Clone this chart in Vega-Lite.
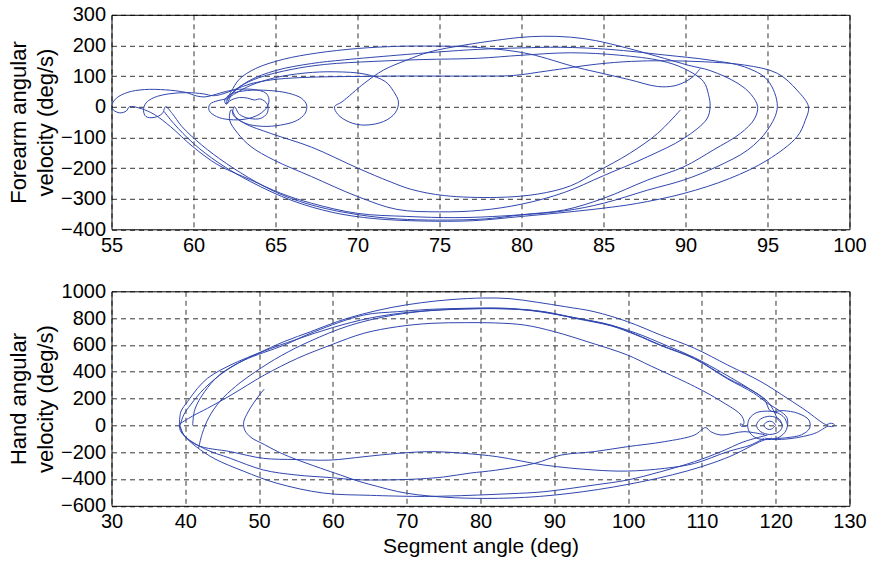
{
  "$schema": "https://vega.github.io/schema/vega-lite/v6.json",
  "padding": {"left": 6.5, "top": 3.8, "right": 10, "bottom": 2},
  "spacing": 24.5,
  "config": {
    "font": "Liberation Sans",
    "view": {"stroke": "#000", "strokeWidth": 1},
    "axis": {
      "labelFont": "Liberation Sans", "labelFontSize": 20, "labelColor": "#000",
      "titleFont": "Liberation Sans", "titleFontSize": 22, "titleFontWeight": "normal", "titleColor": "#000", "titleLineHeight": 27,
      "domain": false, "ticks": false, "grid": true, "gridColor": "#000", "gridDash": [5, 4], "gridWidth": 0.8, "gridOpacity": 1,
      "labelFlush": false, "labelOverlap": false, "labelPadding": 6
    }
  },
  "datasets": {
    "fore": [
      {"s":"f1","x":89.7,"y":-10},{"s":"f1","x":88.3,"y":-87},{"s":"f1","x":86.6,"y":-152},{"s":"f1","x":84.6,"y":-212},{"s":"f1","x":83,"y":-258},{"s":"f1","x":81,"y":-285},{"s":"f1","x":78.5,"y":-296},{"s":"f1","x":75.3,"y":-290},{"s":"f1","x":73.3,"y":-270},{"s":"f1","x":72,"y":-245},{"s":"f1","x":70,"y":-200},{"s":"f1","x":67.2,"y":-132},{"s":"f1","x":64.7,"y":-87},{"s":"f1","x":63.1,"y":-54},{"s":"f1","x":62.4,"y":-25},{"s":"f1","x":62.5,"y":0},
      {"s":"f1","x":62.8,"y":-25},{"s":"f1","x":63.4,"y":-38},{"s":"f1","x":64.1,"y":-38},{"s":"f1","x":64.5,"y":-20},{"s":"f1","x":64.5,"y":8},{"s":"f1","x":64.1,"y":25},{"s":"f1","x":63.7,"y":22},{"s":"f1","x":63.3,"y":28},{"s":"f1","x":62.8,"y":30},{"s":"f1","x":62.3,"y":22},{"s":"f1","x":62,"y":10},
      {"s":"f1","x":62.2,"y":35},{"s":"f1","x":62.8,"y":65},{"s":"f1","x":64,"y":95},{"s":"f1","x":66,"y":122},{"s":"f1","x":68,"y":138},{"s":"f1","x":71,"y":148},{"s":"f1","x":74,"y":154},{"s":"f1","x":77.3,"y":158},{"s":"f1","x":80,"y":168},{"s":"f1","x":83,"y":176},{"s":"f1","x":86,"y":168},{"s":"f1","x":88.5,"y":150},{"s":"f1","x":89.9,"y":125},{"s":"f1","x":91.1,"y":82},{"s":"f1","x":91.4,"y":40},{"s":"f1","x":91.5,"y":0},{"s":"f1","x":91.3,"y":-40},{"s":"f1","x":89.9,"y":-103},{"s":"f1","x":87.7,"y":-163},{"s":"f1","x":85,"y":-225},{"s":"f1","x":82.6,"y":-280},{"s":"f1","x":80,"y":-318},{"s":"f1","x":77.5,"y":-338},{"s":"f1","x":75,"y":-343},{"s":"f1","x":72.4,"y":-335},{"s":"f1","x":70,"y":-293},{"s":"f1","x":67.2,"y":-228},{"s":"f1","x":64.9,"y":-174},{"s":"f1","x":63.5,"y":-130},{"s":"f1","x":62.7,"y":-87},{"s":"f1","x":62.2,"y":-43},{"s":"f1","x":62.3,"y":-10},
      {"s":"f1","x":62.6,"y":-35},{"s":"f1","x":63.2,"y":-55},{"s":"f1","x":64.2,"y":-64},{"s":"f1","x":65.3,"y":-60},{"s":"f1","x":66.3,"y":-45},{"s":"f1","x":66.8,"y":-22},{"s":"f1","x":66.9,"y":5},{"s":"f1","x":66.6,"y":27},{"s":"f1","x":65.8,"y":44},{"s":"f1","x":64.6,"y":53},{"s":"f1","x":63.3,"y":53},{"s":"f1","x":62.3,"y":42},{"s":"f1","x":61.9,"y":22},{"s":"f1","x":62,"y":8},
      {"s":"f1","x":62.4,"y":45},{"s":"f1","x":63.4,"y":85},{"s":"f1","x":65,"y":118},{"s":"f1","x":67.2,"y":141},{"s":"f1","x":69.2,"y":153},{"s":"f1","x":72.4,"y":168},{"s":"f1","x":75,"y":179},{"s":"f1","x":77.3,"y":187},{"s":"f1","x":80,"y":192},{"s":"f1","x":82.4,"y":194},{"s":"f1","x":85.4,"y":187},{"s":"f1","x":88.7,"y":169},{"s":"f1","x":91.5,"y":152},{"s":"f1","x":93.6,"y":130},{"s":"f1","x":95,"y":87},{"s":"f1","x":95.6,"y":0},{"s":"f1","x":95,"y":-76},{"s":"f1","x":93.8,"y":-141},{"s":"f1","x":91.9,"y":-196},{"s":"f1","x":89.9,"y":-239},{"s":"f1","x":87.7,"y":-272},{"s":"f1","x":85,"y":-315},{"s":"f1","x":82.6,"y":-340},{"s":"f1","x":79,"y":-356},{"s":"f1","x":76,"y":-362},{"s":"f1","x":73,"y":-358},{"s":"f1","x":70,"y":-348},{"s":"f1","x":67.2,"y":-315},{"s":"f1","x":65.3,"y":-282},{"s":"f1","x":63.5,"y":-239},{"s":"f1","x":61.5,"y":-190},{"s":"f1","x":59.95,"y":-130},{"s":"f1","x":58.6,"y":-65},{"s":"f1","x":57.6,"y":-25},{"s":"f1","x":56.8,"y":-6},{"s":"f1","x":56.1,"y":0},
      {"s":"f1","x":55.9,"y":-14},{"s":"f1","x":55.5,"y":-20},{"s":"f1","x":55.1,"y":-10},{"s":"f1","x":55,"y":3},{"s":"f1","x":55.3,"y":28},{"s":"f1","x":56,"y":47},{"s":"f1","x":57,"y":56},{"s":"f1","x":58.3,"y":55},{"s":"f1","x":59.5,"y":47},{"s":"f1","x":60.2,"y":35},{"s":"f1","x":60.7,"y":32},{"s":"f1","x":61.2,"y":38},{"s":"f1","x":62,"y":50},{"s":"f1","x":62.8,"y":57},{"s":"f1","x":63.7,"y":56},{"s":"f1","x":64.4,"y":45},{"s":"f1","x":64.6,"y":25},{"s":"f1","x":64.5,"y":0},{"s":"f1","x":64,"y":-25},{"s":"f1","x":63.2,"y":-40},{"s":"f1","x":62.2,"y":-42},{"s":"f1","x":61.4,"y":-32},{"s":"f1","x":60.95,"y":-12},{"s":"f1","x":61,"y":8},{"s":"f1","x":61.5,"y":20},{"s":"f1","x":62,"y":26},
      {"s":"f1","x":62.6,"y":45},{"s":"f1","x":63.5,"y":70},{"s":"f1","x":65,"y":95},{"s":"f1","x":66.8,"y":110},{"s":"f1","x":68.6,"y":114},{"s":"f1","x":70.5,"y":106},{"s":"f1","x":71.7,"y":82},{"s":"f1","x":72.2,"y":50},{"s":"f1","x":72.5,"y":15},{"s":"f1","x":72.3,"y":-20},{"s":"f1","x":71.6,"y":-48},{"s":"f1","x":70.4,"y":-60},{"s":"f1","x":69.5,"y":-50},{"s":"f1","x":68.8,"y":-25},{"s":"f1","x":68.6,"y":0},{"s":"f1","x":69.06,"y":16},
      {"s":"f1","x":70.4,"y":76},{"s":"f1","x":71.6,"y":120},{"s":"f1","x":73,"y":152},{"s":"f1","x":74.4,"y":179},{"s":"f1","x":76.5,"y":201},{"s":"f1","x":78.5,"y":217},{"s":"f1","x":79.9,"y":226},{"s":"f1","x":81.3,"y":230},{"s":"f1","x":83,"y":227},{"s":"f1","x":84.5,"y":216},{"s":"f1","x":86.4,"y":192},{"s":"f1","x":88.7,"y":158},{"s":"f1","x":90.2,"y":135},{"s":"f1","x":91.5,"y":118},{"s":"f1","x":93.2,"y":76},{"s":"f1","x":94,"y":40},{"s":"f1","x":94.4,"y":0},{"s":"f1","x":94.2,"y":-40},{"s":"f1","x":93.35,"y":-87},{"s":"f1","x":91.7,"y":-141},{"s":"f1","x":89.9,"y":-196},{"s":"f1","x":87.7,"y":-239},{"s":"f1","x":85,"y":-299},{"s":"f1","x":82.6,"y":-337},{"s":"f1","x":80.1,"y":-352},{"s":"f1","x":77.8,"y":-366},{"s":"f1","x":75,"y":-370},{"s":"f1","x":72.4,"y":-366},{"s":"f1","x":70,"y":-352},{"s":"f1","x":67.5,"y":-325},{"s":"f1","x":65.5,"y":-290},{"s":"f1","x":63.8,"y":-245},{"s":"f1","x":62,"y":-185},{"s":"f1","x":60.5,"y":-125},{"s":"f1","x":59.3,"y":-65},{"s":"f1","x":58.7,"y":-22},{"s":"f1","x":58.3,"y":0},
      {"s":"f1","x":58.1,"y":-22},{"s":"f1","x":57.6,"y":-35},{"s":"f1","x":57.1,"y":-32},{"s":"f1","x":56.95,"y":-12},{"s":"f1","x":57.1,"y":12},{"s":"f1","x":57.6,"y":30},{"s":"f1","x":58.5,"y":42},{"s":"f1","x":59.6,"y":46},{"s":"f1","x":60.6,"y":42},{"s":"f1","x":61.2,"y":36},
      {"s":"f1","x":61.8,"y":42},{"s":"f1","x":62.5,"y":56},{"s":"f1","x":63.5,"y":75},{"s":"f1","x":64.8,"y":88},{"s":"f1","x":66.5,"y":95},{"s":"f1","x":68.5,"y":98},{"s":"f1","x":70.5,"y":99},{"s":"f1","x":72.2,"y":100},{"s":"f1","x":75,"y":100},{"s":"f1","x":77.5,"y":100},{"s":"f1","x":79.5,"y":102},{"s":"f1","x":81.6,"y":117},{"s":"f1","x":84.6,"y":139},{"s":"f1","x":86.7,"y":148},{"s":"f1","x":88.7,"y":150},{"s":"f1","x":91,"y":147},{"s":"f1","x":93.6,"y":136},{"s":"f1","x":95.6,"y":109},{"s":"f1","x":96.8,"y":54},{"s":"f1","x":97.5,"y":0},{"s":"f1","x":97.3,"y":-45},{"s":"f1","x":96.8,"y":-98},{"s":"f1","x":95,"y":-174},{"s":"f1","x":92.7,"y":-234},{"s":"f1","x":89.9,"y":-283},{"s":"f1","x":87,"y":-316},{"s":"f1","x":85,"y":-331},{"s":"f1","x":82.6,"y":-345},{"s":"f1","x":80,"y":-358},{"s":"f1","x":77,"y":-372},{"s":"f1","x":74,"y":-373},{"s":"f1","x":71,"y":-365},{"s":"f1","x":68.5,"y":-345},{"s":"f1","x":66,"y":-306},{"s":"f1","x":63.5,"y":-245},{"s":"f1","x":61.5,"y":-182},{"s":"f1","x":60,"y":-120},{"s":"f1","x":58.8,"y":-55},{"s":"f1","x":58.2,"y":-15},
      {"s":"f2","x":90.9,"y":125},{"s":"f2","x":90.5,"y":100},{"s":"f2","x":90,"y":82},{"s":"f2","x":89.3,"y":68},{"s":"f2","x":88.3,"y":66},{"s":"f2","x":86.6,"y":88},{"s":"f2","x":85,"y":108},{"s":"f2","x":83.4,"y":128},{"s":"f2","x":80.5,"y":172},{"s":"f2","x":78.5,"y":188},{"s":"f2","x":76.5,"y":196},{"s":"f2","x":74,"y":198},{"s":"f2","x":72.4,"y":197},{"s":"f2","x":70,"y":190},{"s":"f2","x":67.5,"y":175},{"s":"f2","x":65.5,"y":155},{"s":"f2","x":63.8,"y":125},{"s":"f2","x":62.8,"y":90},{"s":"f2","x":62.3,"y":50},{"s":"f2","x":62,"y":20}
    ],
    "hand": [
      {"s":"h1","x":39.2,"y":2},{"s":"h1","x":39.4,"y":102},{"s":"h1","x":40.3,"y":177},{"s":"h1","x":41.65,"y":276},{"s":"h1","x":43,"y":351},{"s":"h1","x":44.8,"y":413},{"s":"h1","x":47.1,"y":475},{"s":"h1","x":49.8,"y":537},{"s":"h1","x":53.4,"y":625},{"s":"h1","x":57,"y":699},{"s":"h1","x":60.6,"y":774},{"s":"h1","x":64,"y":830},{"s":"h1","x":68,"y":880},{"s":"h1","x":72,"y":915},{"s":"h1","x":76,"y":938},{"s":"h1","x":80.4,"y":950},{"s":"h1","x":84,"y":945},{"s":"h1","x":87.7,"y":918},{"s":"h1","x":91.5,"y":885},{"s":"h1","x":95.4,"y":848},{"s":"h1","x":99.9,"y":774},{"s":"h1","x":104.4,"y":674},{"s":"h1","x":109,"y":575},{"s":"h1","x":113.5,"y":450},{"s":"h1","x":118,"y":326},{"s":"h1","x":121.6,"y":201},{"s":"h1","x":124.3,"y":102},{"s":"h1","x":126.1,"y":28},{"s":"h1","x":126.9,"y":5},{"s":"h1","x":127.3,"y":15},{"s":"h1","x":127.8,"y":12},{"s":"h1","x":128,"y":0},{"s":"h1","x":127.6,"y":-10},{"s":"h1","x":127.1,"y":-6},{"s":"h1","x":126.6,"y":-20},{"s":"h1","x":125.5,"y":-55},{"s":"h1","x":123.8,"y":-82},{"s":"h1","x":121.8,"y":-100},{"s":"h1","x":119.8,"y":-105},{"s":"h1","x":118.5,"y":-95},
      {"s":"h2","x":39.3,"y":0},{"s":"h2","x":39.8,"y":80},{"s":"h2","x":40.7,"y":152},{"s":"h2","x":42.6,"y":276},{"s":"h2","x":45.3,"y":400},{"s":"h2","x":48,"y":487},{"s":"h2","x":53.4,"y":599},{"s":"h2","x":57.5,"y":699},{"s":"h2","x":64.2,"y":823},{"s":"h2","x":68.75,"y":848},{"s":"h2","x":73,"y":865},{"s":"h2","x":77.8,"y":873},{"s":"h2","x":82,"y":876},{"s":"h2","x":85,"y":868},{"s":"h2","x":88.6,"y":848},{"s":"h2","x":93,"y":800},{"s":"h2","x":97.7,"y":748},{"s":"h2","x":101,"y":680},{"s":"h2","x":104.4,"y":599},{"s":"h2","x":109,"y":500},{"s":"h2","x":113.5,"y":351},{"s":"h2","x":117.1,"y":251},{"s":"h2","x":118.9,"y":177},{"s":"h2","x":119.8,"y":102},{"s":"h2","x":120.2,"y":52},{"s":"h2","x":120.9,"y":0},{"s":"h2","x":120.5,"y":-45},{"s":"h2","x":119.2,"y":-68},{"s":"h2","x":117.9,"y":-45},{"s":"h2","x":117.4,"y":0},{"s":"h2","x":117.9,"y":45},{"s":"h2","x":119.2,"y":68},{"s":"h2","x":120.5,"y":45},{"s":"h2","x":120.9,"y":0},
      {"s":"h3","x":41,"y":0},{"s":"h3","x":41.3,"y":120},{"s":"h3","x":42.6,"y":250},{"s":"h3","x":44.5,"y":370},{"s":"h3","x":47,"y":460},{"s":"h3","x":50.5,"y":550},{"s":"h3","x":55,"y":640},{"s":"h3","x":60,"y":730},{"s":"h3","x":65,"y":800},{"s":"h3","x":70,"y":842},{"s":"h3","x":75,"y":863},{"s":"h3","x":80,"y":871},{"s":"h3","x":85,"y":866},{"s":"h3","x":88.6,"y":846},{"s":"h3","x":93,"y":796},{"s":"h3","x":97.7,"y":742},{"s":"h3","x":101,"y":676},{"s":"h3","x":104.4,"y":596},{"s":"h3","x":109,"y":496},{"s":"h3","x":113.5,"y":346},{"s":"h3","x":117,"y":241},{"s":"h3","x":119,"y":161},{"s":"h3","x":120.5,"y":110},{"s":"h3","x":121.5,"y":60},{"s":"h3","x":121.6,"y":0},{"s":"h3","x":121.2,"y":-55},{"s":"h3","x":120.2,"y":-95},{"s":"h3","x":118.9,"y":-106},{"s":"h3","x":117.4,"y":-95},{"s":"h3","x":116.5,"y":-55},{"s":"h3","x":116.2,"y":0},{"s":"h3","x":116.5,"y":55},{"s":"h3","x":117.4,"y":95},{"s":"h3","x":118.9,"y":106},{"s":"h3","x":120.2,"y":95},{"s":"h3","x":121.2,"y":55},{"s":"h3","x":121.6,"y":0},
      {"s":"h4","x":41.8,"y":-170},{"s":"h4","x":42.3,"y":-60},{"s":"h4","x":43.2,"y":60},{"s":"h4","x":44.7,"y":180},{"s":"h4","x":46.8,"y":290},{"s":"h4","x":49.5,"y":400},{"s":"h4","x":53,"y":520},{"s":"h4","x":57,"y":630},{"s":"h4","x":62,"y":740},{"s":"h4","x":67,"y":810},{"s":"h4","x":72,"y":850},{"s":"h4","x":78,"y":868},{"s":"h4","x":83,"y":870},{"s":"h4","x":87,"y":855},{"s":"h4","x":92,"y":810},{"s":"h4","x":97,"y":755},{"s":"h4","x":101,"y":690},{"s":"h4","x":105,"y":600},{"s":"h4","x":109,"y":505},{"s":"h4","x":113,"y":385},{"s":"h4","x":116.5,"y":270},{"s":"h4","x":118.5,"y":190},{"s":"h4","x":119.3,"y":107},{"s":"h4","x":121,"y":110},{"s":"h4","x":123,"y":90},{"s":"h4","x":124.5,"y":40},{"s":"h4","x":124.6,"y":-20},{"s":"h4","x":123.5,"y":-70},{"s":"h4","x":121.5,"y":-92},{"s":"h4","x":119.5,"y":-100},
      {"s":"h5","x":39.2,"y":10},{"s":"h5","x":41,"y":70},{"s":"h5","x":43,"y":127},{"s":"h5","x":46.2,"y":226},{"s":"h5","x":50.7,"y":375},{"s":"h5","x":55.2,"y":500},{"s":"h5","x":59.7,"y":599},{"s":"h5","x":64.2,"y":687},{"s":"h5","x":68.75,"y":736},{"s":"h5","x":73.3,"y":761},{"s":"h5","x":78,"y":766},{"s":"h5","x":82,"y":764},{"s":"h5","x":86,"y":748},{"s":"h5","x":90,"y":699},{"s":"h5","x":95,"y":615},{"s":"h5","x":99.9,"y":525},{"s":"h5","x":103,"y":445},{"s":"h5","x":106.7,"y":351},{"s":"h5","x":109,"y":290},{"s":"h5","x":111.2,"y":226},{"s":"h5","x":113.2,"y":160},{"s":"h5","x":114.5,"y":115},{"s":"h5","x":115.3,"y":77},{"s":"h5","x":115.7,"y":30},{"s":"h5","x":115.6,"y":5},{"s":"h5","x":115.2,"y":12},{"s":"h5","x":115.3,"y":-5},{"s":"h5","x":115.8,"y":-8},{"s":"h5","x":116.2,"y":0},
      {"s":"h6","x":120,"y":0},{"s":"h6","x":119.6,"y":25},{"s":"h6","x":119.2,"y":31},{"s":"h6","x":118.7,"y":22},{"s":"h6","x":118.4,"y":0},{"s":"h6","x":118.7,"y":-22},{"s":"h6","x":119.2,"y":-31},{"s":"h6","x":119.6,"y":-22},{"s":"h6","x":120,"y":0},
      {"s":"h7","x":118.4,"y":-97},{"s":"h7","x":116.6,"y":-147},{"s":"h7","x":113.5,"y":-196},{"s":"h7","x":109,"y":-284},{"s":"h7","x":104.9,"y":-321},{"s":"h7","x":99.9,"y":-341},{"s":"h7","x":95.4,"y":-333},{"s":"h7","x":88.6,"y":-296},{"s":"h7","x":82.3,"y":-234},{"s":"h7","x":77.8,"y":-209},{"s":"h7","x":73.3,"y":-196},{"s":"h7","x":68.75,"y":-209},{"s":"h7","x":64.2,"y":-234},{"s":"h7","x":59.6,"y":-259},{"s":"h7","x":55,"y":-255},{"s":"h7","x":50.6,"y":-246},{"s":"h7","x":46.1,"y":-196},{"s":"h7","x":41.6,"y":-147},{"s":"h7","x":39.4,"y":-47},{"s":"h7","x":39.2,"y":2},
      {"s":"h8","x":118.5,"y":-70},{"s":"h8","x":115.7,"y":-47},{"s":"h8","x":112.6,"y":-72},{"s":"h8","x":111.2,"y":-47},{"s":"h8","x":110.5,"y":-17},{"s":"h8","x":109,"y":-72},{"s":"h8","x":104.9,"y":-122},{"s":"h8","x":99.9,"y":-159},{"s":"h8","x":95.4,"y":-196},{"s":"h8","x":90.9,"y":-222},{"s":"h8","x":87.3,"y":-284},{"s":"h8","x":82,"y":-335},{"s":"h8","x":78.6,"y":-356},{"s":"h8","x":75,"y":-385},{"s":"h8","x":71.9,"y":-399},{"s":"h8","x":67.3,"y":-407},{"s":"h8","x":63,"y":-405},{"s":"h8","x":59.8,"y":-390},{"s":"h8","x":55,"y":-370},{"s":"h8","x":50.6,"y":-333},{"s":"h8","x":46.1,"y":-246},{"s":"h8","x":42.5,"y":-172},{"s":"h8","x":39.8,"y":-72},{"s":"h8","x":39.3,"y":0},
      {"s":"h9","x":118.9,"y":-72},{"s":"h9","x":115.7,"y":-122},{"s":"h9","x":112.6,"y":-196},{"s":"h9","x":109,"y":-271},{"s":"h9","x":104.4,"y":-346},{"s":"h9","x":99.9,"y":-408},{"s":"h9","x":95.4,"y":-445},{"s":"h9","x":88.6,"y":-495},{"s":"h9","x":84,"y":-510},{"s":"h9","x":79.6,"y":-520},{"s":"h9","x":75,"y":-528},{"s":"h9","x":71.5,"y":-530},{"s":"h9","x":65.1,"y":-522},{"s":"h9","x":58.7,"y":-505},{"s":"h9","x":52.3,"y":-430},{"s":"h9","x":47.9,"y":-342},{"s":"h9","x":44,"y":-250},{"s":"h9","x":41.5,"y":-160},{"s":"h9","x":40,"y":-85},{"s":"h9","x":39.3,"y":-20},{"s":"h9","x":39.2,"y":0},
      {"s":"h10","x":50.7,"y":271},{"s":"h10","x":50.1,"y":230},{"s":"h10","x":49.3,"y":170},{"s":"h10","x":48.5,"y":100},{"s":"h10","x":47.9,"y":20},{"s":"h10","x":48.1,"y":-40},{"s":"h10","x":48.9,"y":-90},{"s":"h10","x":50.7,"y":-143},{"s":"h10","x":52.5,"y":-195},{"s":"h10","x":54.5,"y":-243},{"s":"h10","x":58.3,"y":-319},{"s":"h10","x":61,"y":-370},{"s":"h10","x":63.6,"y":-419},{"s":"h10","x":66,"y":-455},{"s":"h10","x":68.8,"y":-494},{"s":"h10","x":71.5,"y":-518},{"s":"h10","x":74.9,"y":-535},{"s":"h10","x":78,"y":-543},{"s":"h10","x":80.9,"y":-545},{"s":"h10","x":84,"y":-542},{"s":"h10","x":88,"y":-530},{"s":"h10","x":92,"y":-508},{"s":"h10","x":96,"y":-478},{"s":"h10","x":100,"y":-440},{"s":"h10","x":104,"y":-395},{"s":"h10","x":108,"y":-340},{"s":"h10","x":111.5,"y":-280},{"s":"h10","x":114.5,"y":-215},{"s":"h10","x":116.8,"y":-150},{"s":"h10","x":118.4,"y":-110},{"s":"h10","x":119.5,"y":-95}
    ]
  },
  "vconcat": [
    {
      "width": 738, "height": 214.5,
      "data": {"name": "fore"},
      "mark": {"type": "line", "interpolate": "catmull-rom", "strokeWidth": 1, "color": "#2f45ae", "clip": true},
      "encoding": {
        "x": {"field": "x", "type": "quantitative", "scale": {"domain": [55, 100], "nice": false, "zero": false},
              "axis": {"values": [55,60,65,70,75,80,85,90,95,100], "format": "d", "title": null}},
        "y": {"field": "y", "type": "quantitative", "scale": {"domain": [-400, 300], "nice": false, "zero": false},
              "axis": {"values": [-400,-300,-200,-100,0,100,200,300], "format": "d", "title": ["Forearm angular", "velocity (deg/s)"], "titlePadding": 3}},
        "detail": {"field": "s"},
        "order": {"value": null}
      }
    },
    {
      "width": 738, "height": 214.5,
      "data": {"name": "hand"},
      "mark": {"type": "line", "interpolate": "catmull-rom", "strokeWidth": 1, "color": "#2f45ae", "clip": true},
      "encoding": {
        "x": {"field": "x", "type": "quantitative", "scale": {"domain": [30, 130], "nice": false, "zero": false},
              "axis": {"values": [30,40,50,60,70,80,90,100,110,120,130], "format": "d", "title": "Segment angle (deg)", "titlePadding": 4, "titleFontSize": 21}},
        "y": {"field": "y", "type": "quantitative", "scale": {"domain": [-600, 1000], "nice": false, "zero": false},
              "axis": {"values": [-600,-400,-200,0,200,400,600,800,1000], "format": "d", "title": ["Hand angular", "velocity (deg/s)"], "titlePadding": 3}},
        "detail": {"field": "s"},
        "order": {"value": null}
      }
    }
  ]
}
